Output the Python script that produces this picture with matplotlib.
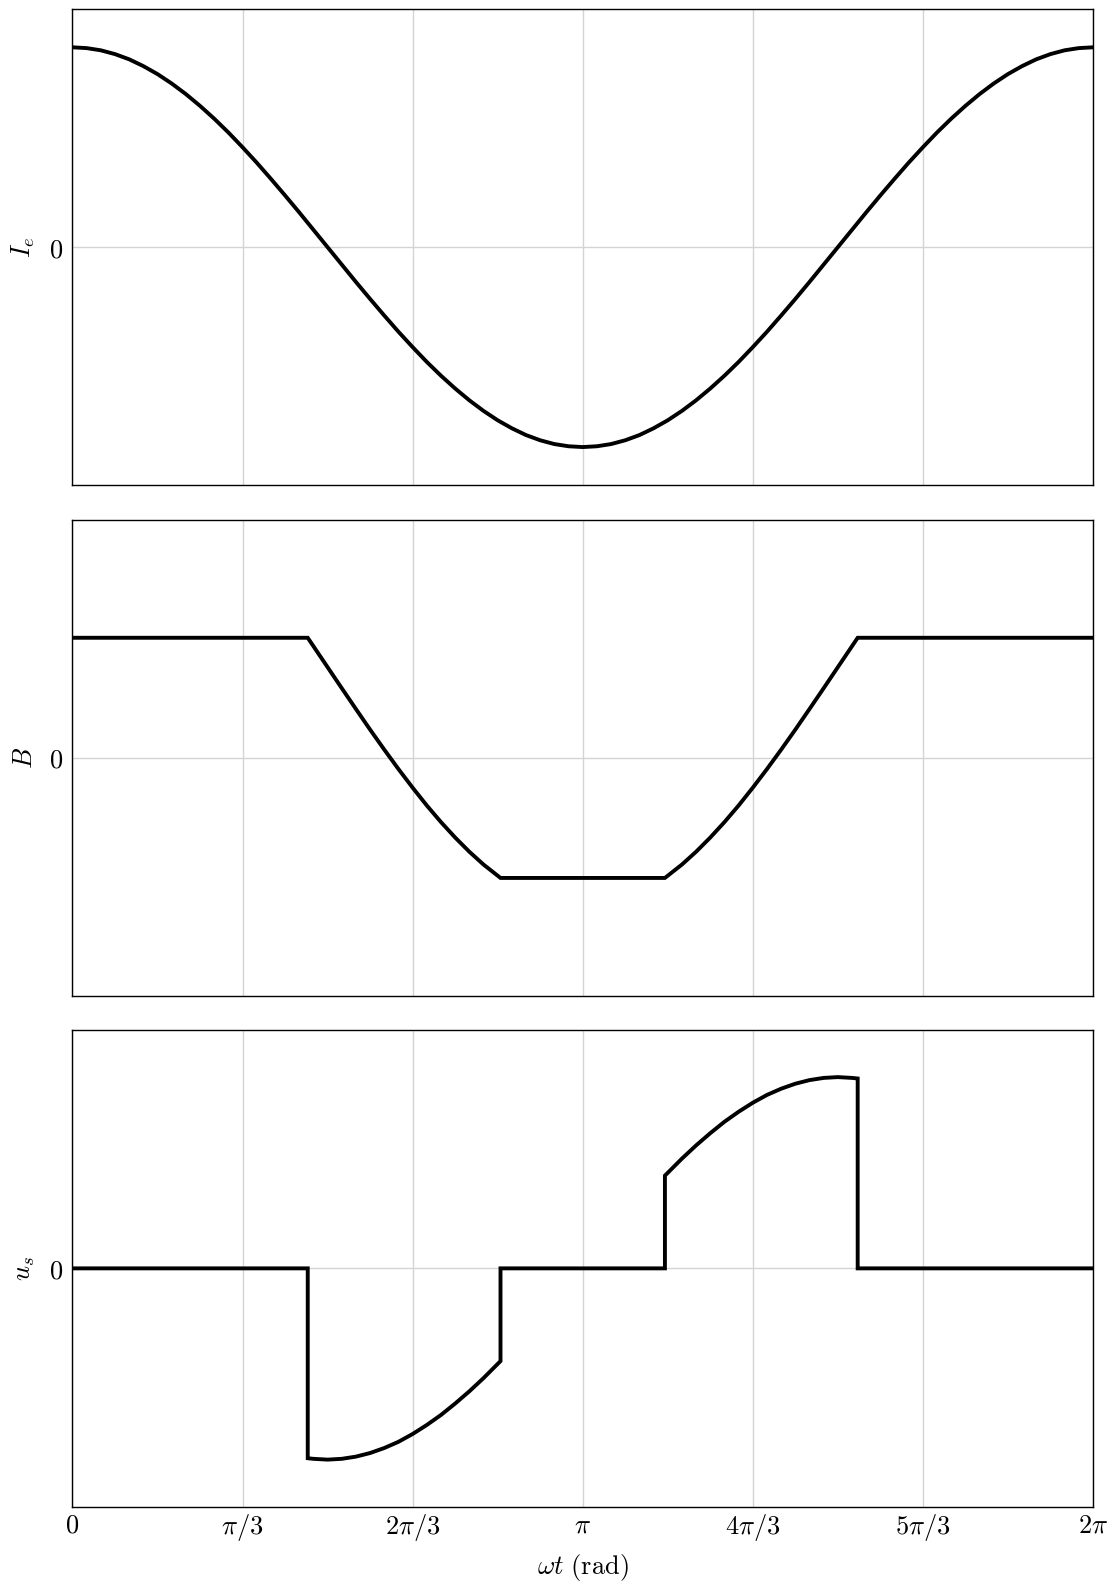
import matplotlib
matplotlib.use("Agg")
import matplotlib.pyplot as plt
import numpy as np

plt.rcParams['mathtext.fontset'] = 'cm'
plt.rcParams['font.family'] = ['DejaVu Serif']

# ---- data (angles in degrees) ----
ie_deg = list(range(0, 361, 5))
ie_val = [1.000, 0.996, 0.985, 0.966, 0.940, 0.906, 0.866, 0.819, 0.766, 0.707,
          0.643, 0.574, 0.500, 0.423, 0.342, 0.259, 0.174, 0.087, 0.000, -0.087,
          -0.174, -0.259, -0.342, -0.423, -0.500, -0.574, -0.643, -0.707, -0.766, -0.819,
          -0.866, -0.906, -0.940, -0.966, -0.985, -0.996, -1.000, -0.996, -0.985, -0.966,
          -0.940, -0.906, -0.866, -0.819, -0.766, -0.707, -0.643, -0.574, -0.500, -0.423,
          -0.342, -0.259, -0.174, -0.087, 0.000, 0.087, 0.174, 0.259, 0.342, 0.423,
          0.500, 0.574, 0.643, 0.707, 0.766, 0.819, 0.866, 0.906, 0.940, 0.966,
          0.985, 0.996, 1.000]

b_deg = [0, 83, 85, 90, 95, 100, 105, 110, 115, 120, 125, 130, 135, 140, 145, 151,
         209, 215, 220, 225, 230, 235, 240, 245, 250, 255, 260, 265, 270, 275, 277, 360]
b_val = [0.600, 0.600, 0.558, 0.453, 0.348, 0.244, 0.141, 0.041, -0.056, -0.149, -0.238,
         -0.321, -0.398, -0.469, -0.533, -0.600,
         -0.600, -0.533, -0.469, -0.398, -0.321, -0.238, -0.149, -0.056, 0.041, 0.141,
         0.244, 0.348, 0.453, 0.558, 0.600, 0.600]

us_deg = [0, 83, 83, 85, 90, 95, 100, 105, 110, 115, 120, 125, 130, 135, 140, 145, 151, 151,
          209, 209, 215, 220, 225, 230, 235, 240, 245, 250, 255, 260, 265, 270, 275, 277, 277, 360]
us_val = [0.0, 0.0, -0.948, -0.951, -0.955, -0.951, -0.940, -0.922, -0.897, -0.866, -0.827,
          -0.782, -0.732, -0.675, -0.614, -0.548, -0.463, 0.0,
          0.0, 0.463, 0.548, 0.614, 0.675, 0.732, 0.782, 0.827, 0.866, 0.897, 0.922,
          0.940, 0.951, 0.955, 0.951, 0.948, 0.0, 0.0]

xtick_labels = [r'$0$', r'$\pi/3$', r'$2\pi/3$', r'$\pi$', r'$4\pi/3$', r'$5\pi/3$', r'$2\pi$']
ylabels = [r'$I_e$', r'$B$', r'$u_s$']

series = [(ie_deg, ie_val), (b_deg, b_val), (us_deg, us_val)]

fig = plt.figure(figsize=(11.13, 15.82), dpi=100)
left, right = 0.0651, 0.982
boxes = [(0.6934, 0.9941), (0.3704, 0.6715), (0.0476, 0.3489)]
xt = np.arange(7) * np.pi / 3
for i, ((deg, val), (b, t)) in enumerate(zip(series, boxes)):
    ax = fig.add_axes([left, b, right - left, t - b])
    ax.plot(np.deg2rad(deg), val, color='black', lw=2.8, solid_joinstyle='miter')
    ax.set_xlim(0, 2 * np.pi)
    ax.set_ylim(-1.19, 1.19)
    ax.set_xticks(xt)
    ax.set_yticks([0])
    ax.set_yticklabels([r'$0$'])
    ax.grid(True, color='#d4d4d4', lw=1.0)
    ax.tick_params(axis='y', length=0, labelsize=19, pad=7)
    ax.tick_params(axis='x', length=0, labelsize=19, pad=4)
    for sp in ax.spines.values():
        sp.set_linewidth(1.0)
        sp.set_color('black')
    ax.set_ylabel(ylabels[i], fontsize=19, labelpad=8)
    if i == 2:
        ax.set_xticklabels(xtick_labels)
        ax.set_xlabel(r'$\omega t\ \mathrm{(rad)}$', fontsize=19, labelpad=6)
    else:
        ax.set_xticklabels([])

fig.savefig('out.png', dpi=100)
